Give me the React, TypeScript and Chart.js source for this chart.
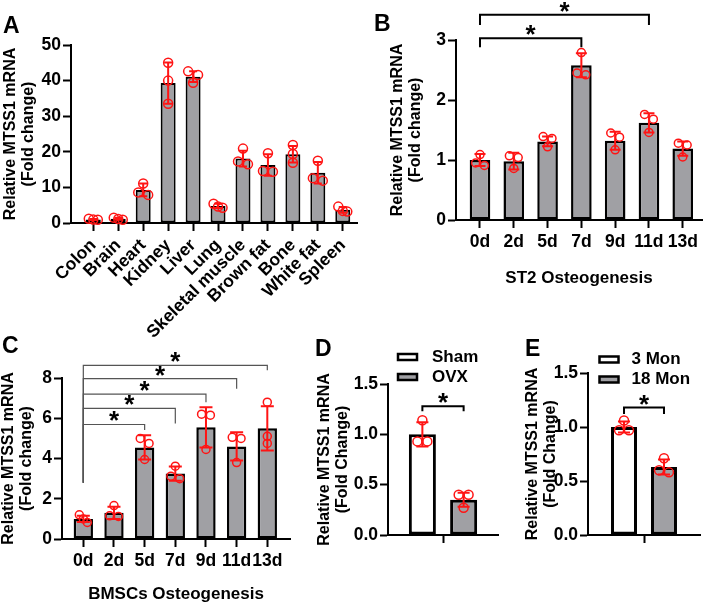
import React, { useEffect, useRef } from 'react';
import { Chart, registerables } from 'chart.js';

Chart.register(...registerables);

const FONT = '"Liberation Sans", Arial, Helvetica, sans-serif';
const RED = '#ff1414';
const BAR_GRAY = '#a0a0a4';
const BLACK = '#000000';

// ---------------- Panel A : tissues ----------------
const tissues = ['Colon', 'Brain', 'Heart', 'Kidney', 'Liver', 'Lung', 'Skeletal muscle', 'Brown fat', 'Bone', 'White fat', 'Spleen'];
const tissueMean = [1.0, 1.2, 9.3, 39.3, 41.1, 4.8, 18.1, 16.3, 19.3, 14.1, 3.7];
const tissueSD = [0.15, 0.3, 1.8, 5.8, 1.5, 0.6, 2.2, 3.0, 2.3, 3.0, 0.8];
const tissuePoints = [
  [1.2, 0.9, 0.95],
  [1.5, 1.1, 0.9],
  [11.1, 8.6, 7.9],
  [45, 40, 33.5],
  [42.6, 41.6, 39.4],
  [5.4, 4.6, 4.3],
  [20.9, 17.3, 16.5],
  [19.6, 14.6, 14.4],
  [21.9, 19.4, 16.9],
  [17.5, 12.6, 11.9],
  [4.6, 3.4, 3.2],
];
const tissueTicks = [0, 10, 20, 30, 40, 50];

// ---------------- Panel B : ST2 ----------------
const days = ['0d', '2d', '5d', '7d', '9d', '11d', '13d'];
const st2Mean = [1.0, 0.98, 1.31, 2.58, 1.32, 1.62, 1.19];
const st2SD = [0.1, 0.14, 0.08, 0.2, 0.15, 0.16, 0.12];
const st2Points = [
  [1.09, 0.95, 0.91],
  [1.07, 1.04, 0.86],
  [1.39, 1.36, 1.22],
  [2.79, 2.45, 2.42],
  [1.45, 1.38, 1.17],
  [1.76, 1.68, 1.46],
  [1.28, 1.25, 1.05],
];
const st2Ticks = [0, 1, 2, 3];
// [from index, to index, bracket level, left leg end, right leg end]
const st2Brackets = [
  [0, 3, 3.03, 2.88, 2.88],
  [0, 5, 3.42, 3.25, 3.25],
];

// ---------------- Panel C : BMSCs ----------------
const bmscMean = [1.0, 1.3, 4.55, 3.25, 5.55, 4.6, 5.5];
const bmscSD = [0.15, 0.3, 0.6, 0.35, 1.0, 0.7, 1.1];
const bmscPoints = [
  [1.2, 1.0, 0.82],
  [1.66, 1.15, 1.12],
  [5.0, 4.75, 3.95],
  [3.62, 3.12, 3.0],
  [6.2, 6.15, 4.45],
  [5.05, 5.0, 3.8],
  [6.8, 5.1, 4.75],
];
const bmscTicks = [0, 2, 4, 6, 8];
const bmscBrackets = [
  [0, 2, 5.69, 2.8, 5.41],
  [0, 3, 6.49, 2.8, 5.74],
  [0, 4, 7.2, 2.8, 6.8],
  [0, 5, 7.97, 2.8, 7.47],
  [0, 6, 8.63, 2.8, 8.38],
];

// ---------------- Panel D : Sham / OVX ----------------
const ovxGroups = ['Sham', 'OVX'];
const ovxMean = [1.0, 0.35];
const ovxSD = [0.12, 0.07];
const ovxPoints = [
  [1.14, 0.93, 0.93],
  [0.4, 0.4, 0.27],
];
const foldTicks = [0, 0.5, 1.0, 1.5];
const ovxBracket = [1.28, 1.23, 1.23];

// ---------------- Panel E : age ----------------
const ageGroups = ['3 Mon', '18 Mon'];
const ageMean = [1.0, 0.63];
const ageSD = [0.05, 0.07];
const agePoints = [
  [1.06, 0.97, 0.97],
  [0.71, 0.6, 0.58],
];
const ageBracket = [1.18, 1.12, 1.12];

const groupFills = ['#ffffff', BAR_GRAY];

// ---------------- helpers ----------------
const tickFont = { family: FONT, size: 17.5, weight: 'bold' as const };

type Bracket = { from: [number, number]; to: [number, number]; level: number; legFrom: number; legTo: number };

interface DecorCfg {
  sd: number[][];
  pts: number[][][];
  radius: number;
  cap: number;
  brackets: Bracket[];
  bracketColor: string;
  bracketWidth: number;
  starSize: number;
  starGap: number;
  legend?: { x: number; y: number; rowGap: number; labels: string[]; fills: string[]; textDx: number };
}

function decor(id: string, cfg: DecorCfg) {
  return {
    id,
    afterDatasetsDraw(chart: any) {
      const ctx: CanvasRenderingContext2D = chart.ctx;
      const ys = chart.scales.y;
      ctx.save();
      cfg.pts.forEach((group, di) => {
        const meta = chart.getDatasetMeta(di);
        group.forEach((vals, i) => {
          const bar = meta.data[i];
          if (!bar) return;
          const cx = bar.x;
          const r = cfg.radius;
          // group points that sit at nearly the same height, spread them symmetrically
          const pys = vals.map((v) => ys.getPixelForValue(v)).sort((a, b) => a - b);
          const clusters: number[][] = [];
          pys.forEach((py) => {
            const last = clusters[clusters.length - 1];
            if (last && py - last[last.length - 1] < r * 1.5) last.push(py);
            else clusters.push([py]);
          });
          const placed: { x: number; y: number }[] = [];
          clusters.forEach((cl) => {
            const offs = cl.length === 1 ? [0] : cl.length === 2 ? [-1.1 * r, 1.1 * r] : [-r, 0, r];
            cl.forEach((py, k) => placed.push({ x: cx + offs[k], y: py }));
          });
          ctx.strokeStyle = RED;
          ctx.lineWidth = 1.5;
          placed.forEach((p) => {
            ctx.beginPath();
            ctx.arc(p.x, p.y, r, 0, Math.PI * 2);
            ctx.stroke();
          });
          const d = chart.data.datasets[di].data[i];
          const mean = typeof d === 'number' ? d : d.y;
          const sd = cfg.sd[di][i];
          const yTop = ys.getPixelForValue(mean + sd);
          const yBot = ys.getPixelForValue(mean - sd);
          const h = cfg.cap / 2;
          ctx.lineWidth = 2;
          ctx.beginPath();
          ctx.moveTo(cx, yTop);
          ctx.lineTo(cx, yBot);
          ctx.moveTo(cx - h, yTop);
          ctx.lineTo(cx + h, yTop);
          ctx.moveTo(cx - h, yBot);
          ctx.lineTo(cx + h, yBot);
          ctx.stroke();
        });
      });

      cfg.brackets.forEach((b) => {
        const xa = chart.getDatasetMeta(b.from[0]).data[b.from[1]].x;
        const xb = chart.getDatasetMeta(b.to[0]).data[b.to[1]].x;
        const yl = ys.getPixelForValue(b.level);
        ctx.strokeStyle = cfg.bracketColor;
        ctx.lineWidth = cfg.bracketWidth;
        ctx.beginPath();
        ctx.moveTo(xa, ys.getPixelForValue(b.legFrom));
        ctx.lineTo(xa, yl);
        ctx.lineTo(xb, yl);
        ctx.lineTo(xb, ys.getPixelForValue(b.legTo));
        ctx.stroke();
        ctx.font = `bold ${cfg.starSize}px ${FONT}`;
        ctx.fillStyle = BLACK;
        ctx.textAlign = 'center';
        ctx.textBaseline = 'alphabetic';
        const m = ctx.measureText('*');
        const cy = yl - cfg.starGap;
        const base = cy + (m.actualBoundingBoxAscent - m.actualBoundingBoxDescent) / 2;
        ctx.fillText('*', (xa + xb) / 2, base);
      });

      if (cfg.legend) {
        const L = cfg.legend;
        const ca = chart.chartArea;
        L.labels.forEach((lab, k) => {
          const bx = ca.left + L.x;
          const by = ca.top + L.y + k * L.rowGap;
          ctx.fillStyle = L.fills[k];
          ctx.fillRect(bx, by, 19, 6);
          ctx.strokeStyle = BLACK;
          ctx.lineWidth = 2.5;
          ctx.strokeRect(bx, by, 19, 6);
          ctx.fillStyle = BLACK;
          ctx.font = `bold 17px ${FONT}`;
          ctx.textAlign = 'left';
          ctx.textBaseline = 'middle';
          ctx.fillText(lab, bx + L.textDx, by + 3);
        });
      }
      ctx.restore();
    },
  };
}

function yAxis(ticks: number[], width: number, title: string[], titlePad: number, digits: number) {
  return {
    type: 'linear',
    min: ticks[0],
    max: ticks[ticks.length - 1],
    afterBuildTicks: (s: any) => {
      s.ticks = ticks.map((v) => ({ value: v }));
    },
    ticks: {
      color: BLACK,
      font: tickFont,
      padding: 2,
      callback: (v: number) => v.toFixed(digits),
    },
    grid: { display: true, drawOnChartArea: false, drawTicks: true, tickLength: 8, tickWidth: 2, tickColor: BLACK },
    border: { display: true, color: BLACK, width: 2 },
    title: {
      display: true,
      text: title,
      color: BLACK,
      font: { family: FONT, size: 16, weight: 'bold', lineHeight: 1.1 },
      padding: { top: titlePad, bottom: 0 },
    },
    afterFit: (s: any) => {
      s.width = width;
      s.paddingTop = 0;
      s.paddingBottom = 0;
    },
  };
}

function xLinear(cats: string[], min: number, max: number, height: number, rot: number, title: string | null, titlePad: number) {
  return {
    type: 'linear',
    min,
    max,
    offset: false,
    afterBuildTicks: (s: any) => {
      s.ticks = cats.map((_, i) => ({ value: i }));
    },
    ticks: {
      autoSkip: false,
      minRotation: rot,
      maxRotation: rot,
      color: BLACK,
      font: tickFont,
      padding: 4,
      callback: (v: number) => cats[v] ?? '',
    },
    grid: { display: true, drawOnChartArea: false, drawTicks: true, tickLength: 8, tickWidth: 2, tickColor: BLACK, offset: false },
    border: { display: true, color: BLACK, width: 2 },
    title: title
      ? { display: true, text: title, color: BLACK, font: { family: FONT, size: 17, weight: 'bold', lineHeight: 1.2 }, padding: { top: 0, bottom: titlePad } }
      : { display: false },
    afterFit: (s: any) => {
      s.height = height;
      s.paddingLeft = 0;
      s.paddingRight = 0;
    },
  };
}

function xSingle(height: number) {
  return {
    type: 'category',
    offset: true,
    ticks: { color: BLACK, font: tickFont, padding: 4 },
    grid: { display: true, drawOnChartArea: false, drawTicks: true, tickLength: 8, tickWidth: 2, tickColor: BLACK, offset: false },
    border: { display: true, color: BLACK, width: 2 },
    afterFit: (s: any) => {
      s.height = height;
      s.paddingLeft = 0;
      s.paddingRight = 0;
    },
  };
}

const baseOptions = (padTop: number, padRight: number) => ({
  responsive: false,
  animation: false,
  devicePixelRatio: 1,
  layout: { padding: { top: padTop, right: padRight, left: 0, bottom: 0 } },
  plugins: { legend: { display: false }, tooltip: { enabled: false }, title: { display: false } },
});

function makeA() {
  return {
    type: 'bar',
    data: {
      datasets: [
        {
          data: tissueMean.map((y, i) => ({ x: i, y })),
          backgroundColor: BAR_GRAY,
          borderColor: BLACK,
          borderWidth: 2,
          borderSkipped: false,
          barPercentage: 0.6,
          categoryPercentage: 1,
        },
      ],
    },
    options: {
      ...baseOptions(45, 3),
      scales: {
        x: xLinear(tissues, -0.894, 10.57, 122, 45, null, 0),
        y: yAxis(tissueTicks, 71, ['Relative MTSS1 mRNA', '(Fold change)'], 2, 0),
      },
    },
    plugins: [
      decor('decorA', {
        sd: [tissueSD],
        pts: [tissuePoints],
        radius: 4.5,
        cap: 8,
        brackets: [],
        bracketColor: BLACK,
        bracketWidth: 1.5,
        starSize: 26,
        starGap: 8,
      }),
    ],
  };
}

const toBrackets = (list: number[][]): Bracket[] =>
  list.map(([a, b, level, la, lb]) => ({ from: [0, a], to: [0, b], level, legFrom: la, legTo: lb }));

function makeDays(mean: number[], sd: number[], pts: number[][], ticks: number[], brackets: number[][], o: any) {
  return {
    type: 'bar',
    data: {
      datasets: [
        {
          data: mean.map((y, i) => ({ x: i, y })),
          backgroundColor: BAR_GRAY,
          borderColor: BLACK,
          borderWidth: 2.5,
          borderSkipped: false,
          barPercentage: o.barPct,
          categoryPercentage: 1,
        },
      ],
    },
    options: {
      ...baseOptions(o.padTop, o.padRight),
      scales: {
        x: xLinear(days, o.xmin, o.xmax, o.xh, 0, o.xtitle, o.xtitlePad),
        y: yAxis(ticks, o.yw, ['Relative MTSS1 mRNA', '(Fold change)'], o.ytitlePad, 0),
      },
    },
    plugins: [
      decor('decor' + o.key, {
        sd: [sd],
        pts: [pts],
        radius: 4,
        cap: o.cap,
        brackets: toBrackets(brackets),
        bracketColor: o.bColor,
        bracketWidth: o.bWidth,
        starSize: 26,
        starGap: 8,
      }),
    ],
  };
}

function makePair(groups: string[], mean: number[], sd: number[], pts: number[][], bracket: number[], o: any) {
  return {
    type: 'bar',
    data: {
      labels: [''],
      datasets: groups.map((g, k) => ({
        label: g,
        data: [mean[k]],
        backgroundColor: groupFills[k],
        borderColor: BLACK,
        borderWidth: 3,
        borderSkipped: false,
        barPercentage: o.barPct,
        categoryPercentage: o.catPct,
      })),
    },
    options: {
      ...baseOptions(o.padTop, o.padRight),
      scales: {
        x: xSingle(70),
        y: yAxis(foldTicks, o.yw, ['Relative MTSS1 mRNA', '(Fold Change)'], o.ytitlePad, 1),
      },
    },
    plugins: [
      decor('decor' + o.key, {
        sd: sd.map((s) => [s]),
        pts: pts.map((p) => [p]),
        radius: 4.5,
        cap: 12,
        brackets: [{ from: [0, 0], to: [1, 0], level: bracket[0], legFrom: bracket[1], legTo: bracket[2] }],
        bracketColor: BLACK,
        bracketWidth: 2,
        starSize: 26,
        starGap: 8,
        legend: { x: o.legX, y: o.legY, rowGap: 20, labels: groups, fills: groupFills, textDx: o.textDx },
      }),
    ],
  };
}

const makeB = () =>
  makeDays(st2Mean, st2SD, st2Points, st2Ticks, st2Brackets, {
    key: 'B', barPct: 0.61, padTop: 40, padRight: 6, xmin: -0.71, xmax: 6.57, xh: 70,
    xtitle: 'ST2 Osteogenesis', xtitlePad: 1, yw: 96, ytitlePad: 29, cap: 11, bColor: BLACK, bWidth: 2,
  });

const makeC = () =>
  makeDays(bmscMean, bmscSD, bmscPoints, bmscTicks, bmscBrackets, {
    key: 'C', barPct: 0.63, padTop: 48, padRight: 10, xmin: -0.695, xmax: 6.74, xh: 66,
    xtitle: 'BMSCs Osteogenesis', xtitlePad: 0, yw: 62, ytitlePad: 0, cap: 13, bColor: '#555555', bWidth: 1.2,
  });

const makeD = () =>
  makePair(ovxGroups, ovxMean, ovxSD, ovxPoints, ovxBracket, {
    key: 'D', barPct: 0.655, catPct: 0.75, padTop: 54, padRight: 7, yw: 88, ytitlePad: 16,
    legX: 10, legY: -30, textDx: 34,
  });

const makeE = () =>
  makePair(ageGroups, ageMean, ageSD, agePoints, ageBracket, {
    key: 'E', barPct: 0.65, catPct: 0.714, padTop: 43, padRight: 8, yw: 83, ytitlePad: 19,
    legX: 11.5, legY: -16.5, textDx: 32,
  });

function Panel({ left, top, width, height, make }: { left: number; top: number; width: number; height: number; make: () => any }) {
  const ref = useRef<HTMLCanvasElement>(null);
  useEffect(() => {
    const chart = new Chart(ref.current as HTMLCanvasElement, make());
    return () => chart.destroy();
  }, []);
  return (
    <canvas
      ref={ref}
      width={width}
      height={height}
      style={{ position: 'absolute', left, top, width, height }}
    />
  );
}

const letters = [
  { t: 'A', left: 3, top: 14 },
  { t: 'B', left: 374, top: 12 },
  { t: 'C', left: 2, top: 334 },
  { t: 'D', left: 315, top: 337 },
  { t: 'E', left: 525, top: 337 },
];

export default function App() {
  return (
    <div style={{ position: 'fixed', left: 0, top: 0, width: 708, height: 605, background: '#ffffff', overflow: 'hidden' }}>
      <Panel left={0} top={0} width={360} height={345} make={makeA} />
      <Panel left={360} top={0} width={348} height={290} make={makeB} />
      <Panel left={0} top={330} width={300} height={275} make={makeC} />
      <Panel left={300} top={330} width={205} height={275} make={makeD} />
      <Panel left={505} top={330} width={203} height={275} make={makeE} />
      {letters.map((l) => (
        <div
          key={l.t}
          style={{
            position: 'absolute',
            left: l.left,
            top: l.top,
            fontFamily: FONT,
            fontWeight: 'bold',
            fontSize: 23,
            lineHeight: 1,
            color: BLACK,
          }}
        >
          {l.t}
        </div>
      ))}
    </div>
  );
}
